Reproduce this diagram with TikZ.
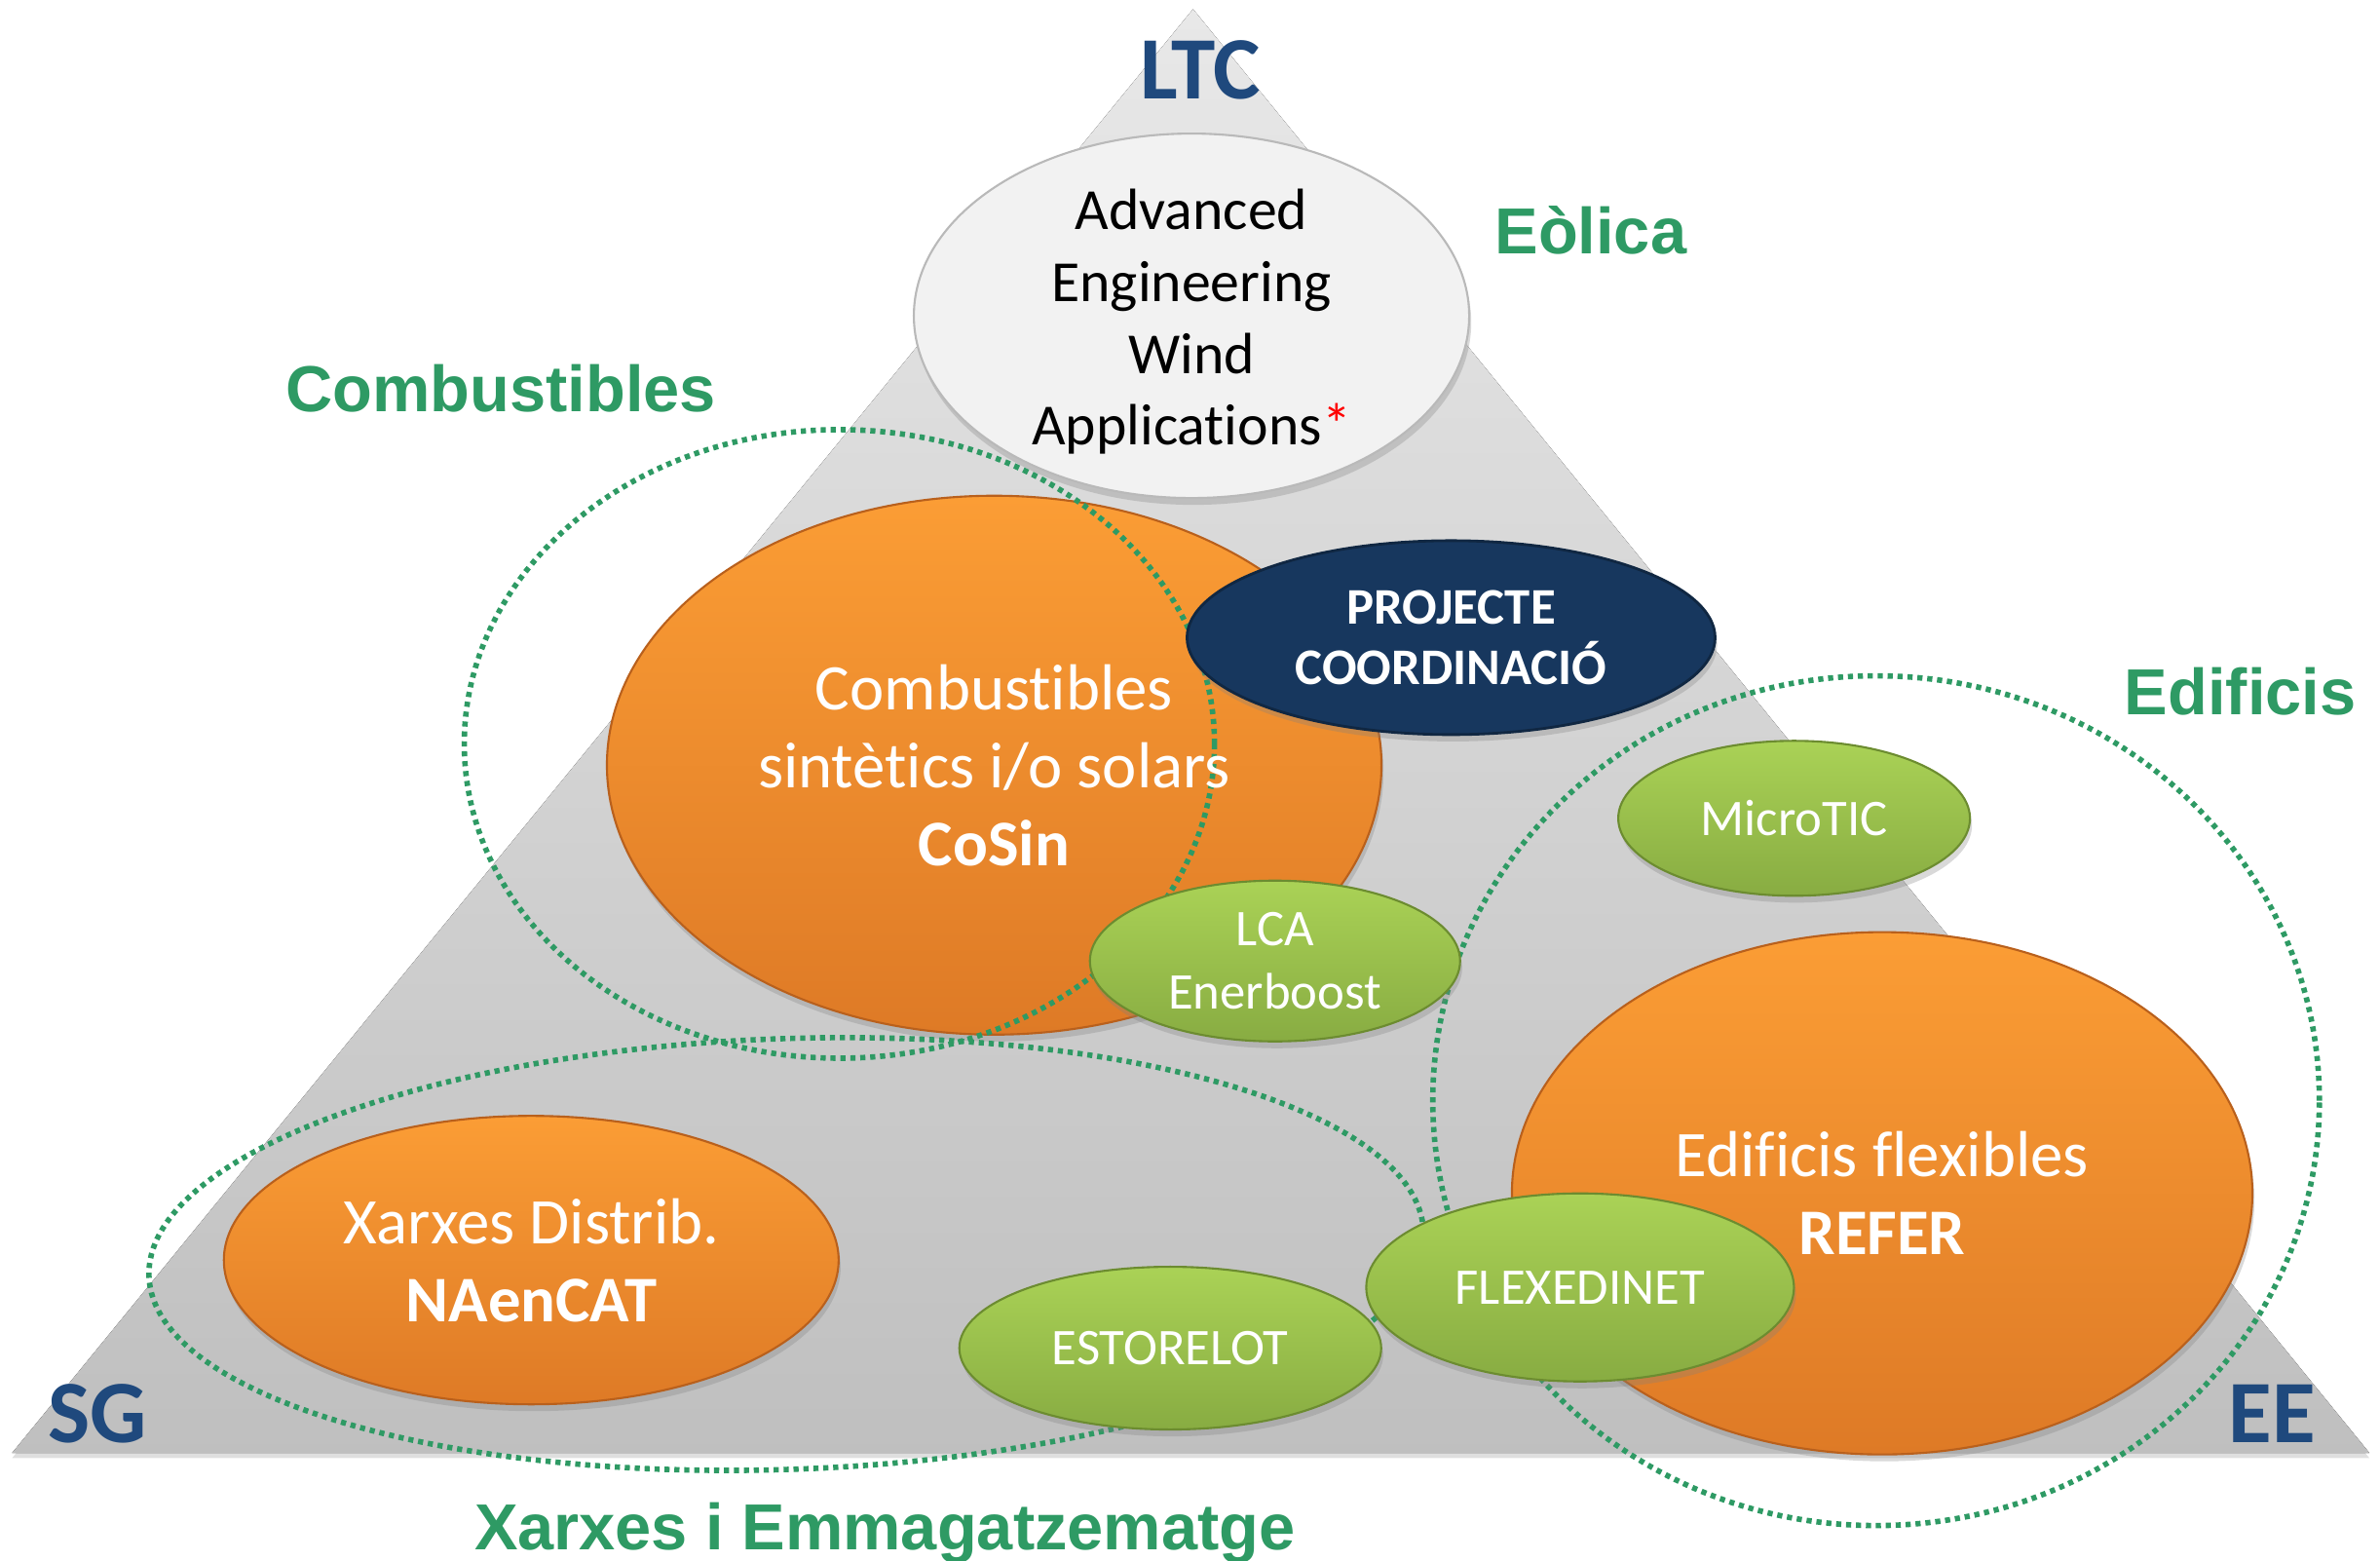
\documentclass[tikz,border=0pt]{standalone}
\usepackage{fontspec}
\setmainfont{Carlito}[Ligatures=NoCommon]
\newfontfamily\arialfont{Liberation Sans}
\usetikzlibrary{shapes.geometric,shadows}

\definecolor{ltcblue}{HTML}{1F497D}
\definecolor{zonegreen}{HTML}{2E9A64}
\definecolor{orangetop}{HTML}{FB9D35}
\definecolor{orangebot}{HTML}{DE7A26}
\definecolor{orangeline}{HTML}{B9601C}
\definecolor{greentop}{HTML}{AAD256}
\definecolor{greenbot}{HTML}{88AC42}
\definecolor{greenline}{HTML}{6C8C30}
\definecolor{coordblue}{HTML}{17375E}
\definecolor{advgray}{HTML}{F2F2F2}

\tikzset{
  bubble/.style={ellipse, inner sep=0pt,
    drop shadow={shadow xshift=0.6pt, shadow yshift=-2pt, opacity=0.3}},
  taronja/.style={bubble, top color=orangetop, bottom color=orangebot,
    draw=orangeline, line width=0.6pt},
  verd/.style={bubble, top color=greentop, bottom color=greenbot,
    draw=greenline, line width=0.6pt},
  zona/.style={ellipse, inner sep=0pt, draw=zonegreen, line width=1.6pt,
    dash pattern=on 1.5pt off 1.4pt},
  bigtxt/.style={text=white, align=center, inner sep=0pt,
    font=\fontsize{19}{22.8}\selectfont},
  smalltxt/.style={text=white, align=center, inner sep=0pt,
    font=\fontsize{15}{18.5}\selectfont},
  vertex/.style={text=ltcblue, inner sep=0pt, font=\bfseries\fontsize{26}{30}\selectfont},
  zonelabel/.style={text=zonegreen, inner sep=0pt, anchor=base,
    font=\arialfont\bfseries\fontsize{19}{23}\selectfont}
}

\begin{document}
\begin{tikzpicture}[x=0.01558cm, y=-0.01558cm]
    \useasboundingbox (0,0) rectangle (1568,1028);

    % Triangle
    \coordinate (apex) at (786,6);
    \coordinate (baseL) at (8,957);
    \coordinate (baseR) at (1561,957);
    \fill[top color=gray!18, bottom color=gray!50,
          drop shadow={shadow xshift=0pt, shadow yshift=-1.5pt, opacity=0.25}]
        (apex) -- (baseL) -- (baseR) -- cycle;

    \node[vertex] (ltc) at (791,46) {LTC};
    \node[vertex] (sg) at (64,931) {SG};
    \node[vertex] (ee) at (1497,931) {EE};

    % Eolica
    \node[bubble, fill=advgray, draw=gray!55, line width=0.6pt,
          minimum width=5.70cm, minimum height=3.74cm] (aewa) at (785,208) {};
    \node[align=center, inner sep=0pt, font=\fontsize{17}{21}\selectfont] (aewa-txt) at (785,212)
        {Advanced\\Engineering\\Wind\\Applications\textcolor{red}{*}};

    % projectes grans
    \node[taronja, minimum width=7.95cm, minimum height=5.53cm] (cosin) at (655,504) {};
    \node[taronja, minimum width=6.31cm, minimum height=2.96cm] (naencat) at (350,830) {};
    \node[taronja, minimum width=7.60cm, minimum height=5.36cm] (refer) at (1240,786) {};

    % zones
    \node[zona, minimum width=7.70cm, minimum height=6.45cm] (zcomb) at (553,490) {};
    \node[zona, minimum width=9.10cm, minimum height=8.72cm] (zedif) at (1236,725) {};
    \node[zona, minimum width=13.09cm, minimum height=4.42cm, rotate=2] (zxarx) at (518,826) {};

    \node[bigtxt] (cosin-txt) at (cosin.center)
        {Combustibles\\sintètics i/o solars\\\textbf{CoSin}};
    \node[bigtxt] (naencat-txt) at (naencat.center) {Xarxes Distrib.\\\textbf{NAenCAT}};
    \node[bigtxt] (refer-txt) at (refer.center) {Edificis flexibles\\\textbf{REFER}};

    % coordinacio
    \node[bubble, fill=coordblue, draw=coordblue!70!black, line width=0.8pt,
          minimum width=5.42cm, minimum height=1.99cm] (coord) at (956,420) {};
    \node[text=white, align=center, inner sep=0pt,
          font=\bfseries\fontsize{15}{17.7}\selectfont] (coord-txt) at (coord.center)
        {PROJECTE\\COORDINACIÓ};

    % projectes petits
    \node[verd, minimum width=3.61cm, minimum height=1.59cm] (microtic) at (1182,539) {};
    \node[verd, minimum width=3.80cm, minimum height=1.65cm] (lca) at (840,633) {};
    \node[verd, minimum width=4.33cm, minimum height=1.67cm] (estorelot) at (771,888) {};
    \node[verd, minimum width=4.39cm, minimum height=1.93cm] (flexedinet) at (1041,848) {};

    \node[smalltxt] (microtic-txt) at (microtic.center) {MicroTIC};
    \node[smalltxt] (lca-txt) at (lca.center) {LCA\\Enerboost};
    \node[smalltxt] (estorelot-txt) at (estorelot.center) {ESTORELOT};
    \node[smalltxt] (flexedinet-txt) at (flexedinet.center) {FLEXEDINET};

    % etiquetes
    \node[zonelabel] (l-eolica) at (1048,167) {Eòlica};
    \node[zonelabel] (l-comb) at (330,271) {Combustibles};
    \node[zonelabel] (l-edif) at (1476,471) {Edificis};
    \node[zonelabel] (l-xarx) at (583,1021) {Xarxes i Emmagatzematge};
\end{tikzpicture}
\end{document}
